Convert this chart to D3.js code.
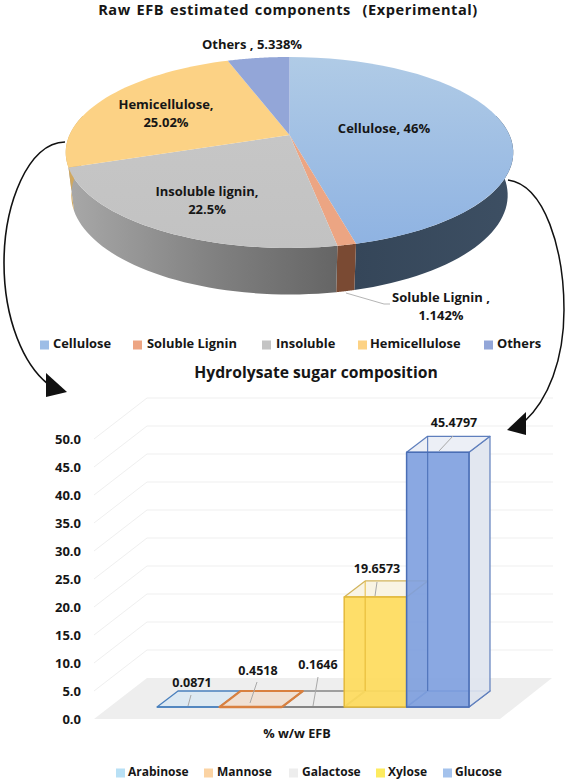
<!DOCTYPE html>
<html><head><meta charset="utf-8">
<style>html,body{margin:0;padding:0;background:#fff}svg{display:block}
text{font-family:"Open Sans",Lato,sans-serif;font-weight:700;fill:#161616}</style>
<script src="https://cdn.jsdelivr.net/npm/d3@7"></script></head><body>
<svg id="c" width="567" height="784"></svg>
<script>
const pieCategories=["Cellulose","Soluble Lignin","Insoluble","Hemicellulose","Others"];
const pieValues=[46,1.142,22.5,25.02,5.338];
const pieLabels=[["Cellulose, 46%"],["Soluble Lignin ,","1.142%"],["Insoluble lignin,","22.5%"],["Hemicellulose,","25.02%"],["Others , 5.338%"]];
const pieTopColors=["url(#gCel)","#eca583","url(#gIns)","#fcd285","#93a6d8"];
const pieSideColors=["url(#sCel)","#7a4a33","url(#sIns)","#d0a860","#6e7fa8"];
const pieSwatches=["#9dbde6","#eda583","#c4c4c4","#fcd285","#93a6d8"];
const sugarCategories=["Arabinose","Mannose","Galactose","Xylose","Glucose"];
const sugarValues=[0.0871,0.4518,0.1646,19.6573,45.4797];
const sugarFront=["#cfe6f5","#f3d5bd","#ececec","#fedc5e","#7d9fdf"];
const sugarStroke=["#4a80bd","#d9803f","#858585","#e4b93a","#4a6eb5"];
const sugarSwatches=["#b8e0f5","#fbd3a3","#ededed","#fdeb5f","#a4c2ec"];
const yTicks=[0,5,10,15,20,25,30,35,40,45,50];

const svg=d3.select("#c");
const defs=svg.append("defs");
function grad(id,x2,y2,stops){const g=defs.append("linearGradient").attr("id",id).attr("gradientUnits","objectBoundingBox").attr("x1",0).attr("y1",0).attr("x2",x2).attr("y2",y2);
 stops.forEach(s=>g.append("stop").attr("offset",s[0]).attr("stop-color",s[1]));}
grad("gCel",0,1,[[0,"#b0cbe6"],[1,"#8fb3e2"]]);
grad("gIns",0,1,[[0,"#c6c6c6"],[1,"#c2c2c2"]]);
grad("sCel",1,0,[[0,"#354659"],[1,"#3d4f63"]]);
grad("sIns",1,0,[[0,"#a8a8a8"],[.55,"#808080"],[1,"#656565"]]);

const title=(t,x,y,s)=>svg.append("text").attr("x",x).attr("y",y).attr("text-anchor","middle").attr("dominant-baseline","middle").attr("font-size",s).text(t);
title("Raw EFB estimated components  (Experimental)",288,11,14.6).attr("letter-spacing",.55).attr("word-spacing",1.5).style("white-space","pre");
title("Hydrolysate sugar composition",316,374,15.7);

// ---- 3D pie ----
const cx=289.5,cy=135,Rx=220,Ry=92.3,k=0.183;
const top3=a=>{const X=Math.sin(a),Y=Math.cos(a),w=1+k*Y;return [cx+Rx*X/w,cy-Ry*Y/w];};
const bot3=a=>{const X=Math.sin(a),Y=Math.cos(a),w=1+k*Y;return [cx+Rx*.975*X/w,cy+42-Ry*1.04*Y/w];};
const arcs=d3.pie().sort(null)(pieValues);
const line=d3.line();
const samp=(a0,a1,f)=>d3.range(0,41).map(i=>f(a0+(a1-a0)*i/40));
const sideG=svg.append("g"),topG=svg.append("g");
const A0=Math.PI*0.43,A1=Math.PI*1.57;
sideG.selectAll("path").data(arcs.filter(d=>d.endAngle>A0&&d.startAngle<A1)).join("path")
 .attr("d",d=>{const a=Math.max(d.startAngle,A0),b=Math.min(d.endAngle,A1);
   return line(samp(a,b,top3).concat(samp(b,a,bot3)))+"Z";})
 .attr("fill",d=>pieSideColors[d.index]);
topG.selectAll("path").data(arcs).join("path")
 .attr("d",d=>line([[cx,cy]].concat(samp(d.startAngle,d.endAngle,top3)))+"Z")
 .attr("fill",d=>pieTopColors[d.index]);

const pieLabelPos=[[384,130],[441,299],[207,193],[166,106],[252,46]];
pieLabels.forEach((ls,i)=>ls.forEach((t,j)=>svg.append("text").attr("x",pieLabelPos[i][0]).attr("y",pieLabelPos[i][1]+j*18)
  .attr("text-anchor","middle").attr("dominant-baseline","middle").attr("font-size",13).text(t)));
svg.append("path").attr("d","M346,293L384,304L390,304").attr("stroke","#b5b5b5").attr("fill","none");

function legend(names,colors,sx,tx,y,size){names.forEach((n,i)=>{
  svg.append("rect").attr("x",sx[i]).attr("y",y-4.5).attr("width",9).attr("height",9).attr("fill",colors[i]);
  svg.append("text").attr("x",tx[i]).attr("y",y).attr("dominant-baseline","middle").attr("font-size",size).text(n);});}
legend(pieCategories,pieSwatches,[40,133,262,358,484],[53,147,276,370,497],345,12.9);

// ---- 3D bars ----
const y=d3.scaleLinear().domain([0,50]).range([719,439]);
const x=d3.scaleBand().domain(sugarCategories).range([157,469]).padding(0);
const dx=21,dy=-16,fl=-12;
const gridG=svg.append("g");
const wallDy=-41;
gridG.append("path").attr("d",line([[94,719],[147,678],[552,678],[500,719]])+"Z").attr("fill","#eeeeee");
yTicks.slice(1).forEach(t=>{const Y=y(t);
  gridG.append("path").attr("d",line([[94,Y],[147,Y+wallDy],[553,Y+wallDy]])).attr("fill","none").attr("stroke","#efefef").attr("stroke-width",1);});

const axis=d3.axisLeft(y).tickValues(yTicks).tickFormat(d3.format(".1f")).tickSize(0).tickPadding(0);
const ax=svg.append("g").attr("transform","translate(81,0)").call(axis);
ax.select(".domain").remove();
ax.selectAll("text").attr("font-size",13).attr("dy",".32em");

const barG=svg.append("g");
[0,2,1,3,4].forEach(i=>{
 const c=sugarCategories[i];
 const x0=x(c),x1=x0+x.bandwidth(),by=y(0)+fl,ty=y(sugarValues[i])+fl,st=sugarStroke[i],big=sugarValues[i]>1;
 const sw=i===1?2.2:(i===2?1.7:1.3);
 const g=barG.append("g").attr("fill","none").attr("stroke-linejoin","round");
 g.append("path").attr("d",line([[x0,by],[x0+dx,by+dy],[x1+dx,by+dy],[x1,by]])+"Z").attr("fill",big?"rgba(120,120,120,.12)":sugarFront[i]).attr("fill-opacity",big?1:.55).attr("stroke",big?(i===3?"#8a8a6a":"#5f7fbd"):st).attr("stroke-width",sw);
 if(big){
  g.append("path").attr("d",line([[x0+dx,by+dy],[x0+dx,ty+dy]])).attr("stroke",st).attr("stroke-width",1.3);
  g.append("path").attr("d",line([[x1,by],[x1+dx,by+dy],[x1+dx,ty+dy],[x1,ty]])+"Z").attr("fill",i===4?"#dfe4ee":"#d8d8d0").attr("fill-opacity",i===4?.9:.45).attr("stroke",i===4?"#5f7fbd":"#a8a8a0").attr("stroke-width",1.2);
  g.append("path").attr("d",line([[x0,ty],[x0+dx,ty+dy],[x1+dx,ty+dy],[x1,ty]])+"Z").attr("fill",i===4?"#eceff6":"#f9f4e4").attr("stroke",i===4?"#5f7fbd":"#d2b45c").attr("stroke-width",1.2);
  g.append("rect").attr("x",x0).attr("y",ty).attr("width",x1-x0).attr("height",by-ty).attr("fill",sugarFront[i]).attr("fill-opacity",i===4?.9:.93).attr("stroke",st).attr("stroke-width",1.5);
  g.append("path").attr("d",line([[x0+dx,by+dy],[x0+dx,ty+dy]])).attr("stroke",st).attr("stroke-width",1.2).attr("stroke-opacity",.8);
 } else {
  g.append("path").attr("d",line([[x0,by],[x1,by]])).attr("stroke",st).attr("stroke-width",sw+.3);
 }
});
const barLabelPos=[[192,684],[258,672],[318,666],[377,570],[454,424]];
const leaders=[[188,706,191,695],[250,703,257,682],[313,706,318,677],[375,596,377,582],[439,451,453,436]];
sugarValues.forEach((v,i)=>{
 const L=leaders[i];
 svg.append("line").attr("x1",L[0]).attr("y1",L[1]).attr("x2",L[2]).attr("y2",L[3]).attr("stroke","#a8a8a8").attr("stroke-width",1);
 svg.append("text").attr("x",barLabelPos[i][0]).attr("y",barLabelPos[i][1]).attr("text-anchor","middle").attr("dominant-baseline","middle").attr("font-size",12.5).text(d3.format(".4f")(v));
});
title("% w/w EFB",297,735,12.7);
legend(sugarCategories,sugarSwatches,[116,204,289,376,443],[128,217,302,388,455],773,12);

// ---- connector arrows ----
svg.append("path").attr("d","M65,142C28,142,4,205,4,263C4,320,24,365,48,384").attr("fill","none").attr("stroke","#111").attr("stroke-width",1.6);
svg.append("path").attr("d","M46,373L46,397L67,392Z").attr("fill","#111");
svg.append("path").attr("d","M508,180C545,185,564,250,564,310C564,360,548,400,524,422").attr("fill","none").attr("stroke","#111").attr("stroke-width",1.5);
svg.append("path").attr("d","M526,412L507,430L526,435Z").attr("fill","#111");
</script></body></html>
